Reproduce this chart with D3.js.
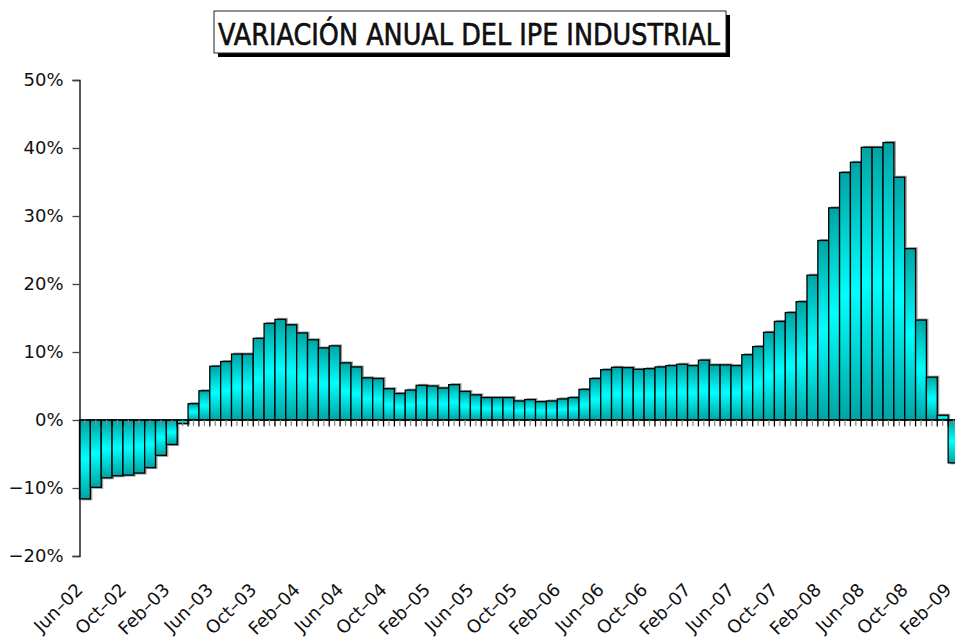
<!DOCTYPE html>
<html>
<head>
<meta charset="utf-8">
<script src="https://cdn.jsdelivr.net/npm/d3@7"></script>
<style>
  body { margin: 0; background: #fff; }
  svg { display: block; }
  text { font-family: "DejaVu Sans", Verdana, sans-serif; fill: #111; }
</style>
</head>
<body>
<script>
// months shown on the category axis
const months = [
  "Jun-02","Jul-02","Aug-02","Sep-02","Oct-02","Nov-02","Dec-02",
  "Jan-03","Feb-03","Mar-03","Apr-03","May-03","Jun-03","Jul-03","Aug-03","Sep-03","Oct-03","Nov-03","Dec-03",
  "Jan-04","Feb-04","Mar-04","Apr-04","May-04","Jun-04","Jul-04","Aug-04","Sep-04","Oct-04","Nov-04","Dec-04",
  "Jan-05","Feb-05","Mar-05","Apr-05","May-05","Jun-05","Jul-05","Aug-05","Sep-05","Oct-05","Nov-05","Dec-05",
  "Jan-06","Feb-06","Mar-06","Apr-06","May-06","Jun-06","Jul-06","Aug-06","Sep-06","Oct-06","Nov-06","Dec-06",
  "Jan-07","Feb-07","Mar-07","Apr-07","May-07","Jun-07","Jul-07","Aug-07","Sep-07","Oct-07","Nov-07","Dec-07",
  "Jan-08","Feb-08","Mar-08","Apr-08","May-08","Jun-08","Jul-08","Aug-08","Sep-08","Oct-08","Nov-08","Dec-08",
  "Jan-09","Feb-09"
];

// annual variation, percent
const variation = [
  -11.6, -9.9, -8.5, -8.2, -8.1, -7.8, -7.0,
  -5.2, -3.6, -0.5, 2.4, 4.3, 7.9, 8.6, 9.7, 9.7, 12.0, 14.2, 14.8,
  14.0, 12.8, 11.8, 10.6, 10.9, 8.4, 7.8, 6.2, 6.1, 4.6, 3.9, 4.4,
  5.1, 5.0, 4.7, 5.2, 4.2, 3.7, 3.3, 3.3, 3.3, 2.8, 3.0, 2.7,
  2.8, 3.1, 3.3, 4.5, 6.1, 7.4, 7.75, 7.7, 7.45, 7.55, 7.8, 8.0,
  8.2, 8.0, 8.8, 8.1, 8.1, 8.0, 9.6, 10.8, 12.9, 14.5, 15.8, 17.4,
  21.3, 26.4, 31.2, 36.4, 37.9, 40.1, 40.1, 40.8, 35.7, 25.2, 14.7, 6.3,
  0.7, -6.3
];

// y axis ticks and labelled months (every fourth)
const yTicks = [-20, -10, 0, 10, 20, 30, 40, 50];
const xLabels = ["Jun-02","Oct-02","Feb-03","Jun-03","Oct-03","Feb-04","Jun-04","Oct-04",
  "Feb-05","Jun-05","Oct-05","Feb-06","Jun-06","Oct-06","Feb-07","Jun-07","Oct-07",
  "Feb-08","Jun-08","Oct-08","Feb-09"];

const data = months.map((m, i) => ({ month: m, value: variation[i] }));

const W = 955, H = 642;
const svg = d3.select("body").append("svg")
    .attr("width", W)
    .attr("height", H);

// gradient like the old spreadsheet bars: dark teal at the ends, cyan in the middle
const grad = svg.append("defs").append("linearGradient")
    .attr("id", "barGrad")
    .attr("x1", 0).attr("y1", 0).attr("x2", 0).attr("y2", 1);
grad.append("stop").attr("offset", "0%").attr("stop-color", "#00a3a3");
grad.append("stop").attr("offset", "50%").attr("stop-color", "#00ffff");
grad.append("stop").attr("offset", "100%").attr("stop-color", "#00a3a3");

const plotLeft = 79.5, plotRight = 959, plotTop = 80, plotBottom = 556;

const x = d3.scaleBand().domain(months).range([plotLeft, plotRight]).padding(0);
const y = d3.scaleLinear().domain([-20, 50]).range([plotBottom, plotTop]);

// title box with shadow
const title = svg.append("g");
title.append("rect")
    .attr("x", 218).attr("y", 15).attr("width", 512).attr("height", 42)
    .attr("fill", "#000");
title.append("rect")
    .attr("x", 214).attr("y", 11).attr("width", 512).attr("height", 42)
    .attr("fill", "#fff").attr("stroke", "#222").attr("stroke-width", 1);
title.append("text")
    .attr("x", 218).attr("y", 44.5)
    .attr("font-size", 30)
    .attr("font-family", "'DejaVu Sans Condensed', 'DejaVu Sans', sans-serif")
    .attr("textLength", 502)
    .attr("lengthAdjust", "spacingAndGlyphs")
    .attr("fill", "#000")
    .attr("stroke", "#000")
    .attr("stroke-width", 0.6)
    .text("VARIACIÓN ANUAL DEL IPE INDUSTRIAL");

// bar shadows
svg.append("g").selectAll("rect")
    .data(data)
    .enter().append("rect")
    .attr("x", d => x(d.month) + 2)
    .attr("y", d => d.value >= 0 ? y(d.value) - 1.5 : y(0))
    .attr("width", x.bandwidth())
    .attr("height", d => Math.abs(y(d.value) - y(0)) + 1.5)
    .attr("fill", "#9a9a9a");

// bars
svg.append("g").selectAll("rect")
    .data(data)
    .enter().append("rect")
    .attr("x", d => x(d.month))
    .attr("y", d => y(Math.max(0, d.value)))
    .attr("width", x.bandwidth())
    .attr("height", d => Math.abs(y(d.value) - y(0)))
    .attr("fill", "url(#barGrad)")
    .attr("stroke", "#000")
    .attr("stroke-width", 1.3);

// y axis
const yAxis = svg.append("g")
    .attr("transform", "translate(" + plotLeft + ",0)")
    .call(d3.axisLeft(y).tickValues(yTicks).tickSize(7).tickPadding(9)
        .tickFormat(d => (d < 0 ? "\u2212" + Math.abs(d) : d) + "%"));
yAxis.select(".domain").attr("stroke", "#000").attr("stroke-width", 1.3);
yAxis.selectAll(".tick line").attr("stroke", "#444").attr("stroke-width", 1.3);
yAxis.selectAll(".tick text")
    .attr("font-size", 18)
    .attr("font-family", "DejaVu Sans, sans-serif")
    .attr("fill", "#111");

// x axis along zero: ticks between categories, lighter ones at centres
const zero = y(0);
svg.append("line")
    .attr("x1", plotLeft).attr("x2", W)
    .attr("y1", zero).attr("y2", zero)
    .attr("stroke", "#000").attr("stroke-width", 1.5);

svg.append("g").selectAll("line")
    .data(months)
    .enter().append("line")
    .attr("x1", d => x(d) + x.bandwidth() / 2)
    .attr("x2", d => x(d) + x.bandwidth() / 2)
    .attr("y1", zero).attr("y2", zero + 6)
    .attr("stroke", "#888").attr("stroke-width", 1.2);

svg.append("g").selectAll("line")
    .data(months.slice(1))
    .enter().append("line")
    .attr("x1", d => x(d))
    .attr("x2", d => x(d))
    .attr("y1", zero).attr("y2", zero + 6.5)
    .attr("stroke", "#000").attr("stroke-width", 1.3);

// month labels, rotated
svg.append("g").selectAll("text")
    .data(xLabels)
    .enter().append("text")
    .attr("transform", d => "translate(" + (x(d) + x.bandwidth() / 2 - 1) + ",591) rotate(-45)")
    .attr("text-anchor", "end")
    .attr("font-size", 18)
    .text(d => d.replace("-", "\u2013"));
</script>
</body>
</html>
